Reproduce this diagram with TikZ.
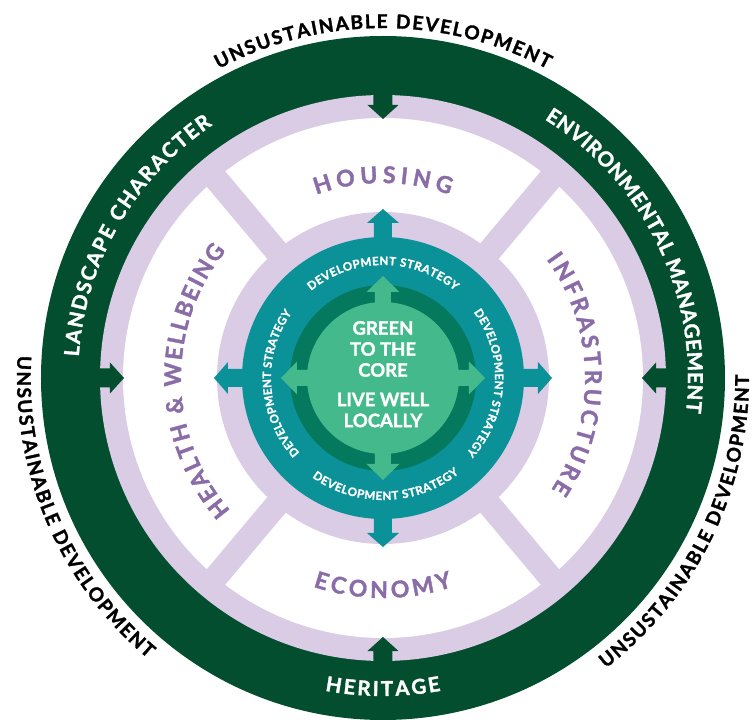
\documentclass[tikz,border=0pt]{standalone}
\usepackage{fontspec}
\setmainfont{Lato}[BoldFeatures={FakeBold=1.6}]
\usepackage{xcolor}
\usepackage{tikz}
\usetikzlibrary{decorations.text}

\definecolor{darkring}{HTML}{044E30}
\definecolor{lav}{HTML}{D9CCE4}
\definecolor{tealc}{HTML}{0B9198}
\definecolor{innerdark}{HTML}{04795E}
\definecolor{lightg}{HTML}{44B98B}
\definecolor{purp}{HTML}{8A6DA8}

\newcommand\outerfont{\bfseries\fontsize{19}{19}\selectfont}
\newcommand\ringfont{\bfseries\fontsize{20.5}{20.5}\selectfont}
\newcommand\sectorfont{\bfseries\fontsize{23}{23}\selectfont}
\newcommand\stratfont{\bfseries\fontsize{11.5}{11.5}\selectfont}

\tikzset{
  arctext/.style n args={3}{
    decorate,
    decoration={text along path, text={|#3|#1}, text color=#2,
      text align=fit to path}
  },
  coretext/.style={text=white, align=center,
    font=\bfseries\fontsize{18.5}{21}\selectfont}
}

\begin{document}
\begin{tikzpicture}[x=1pt,y=1pt]
  \useasboundingbox (-383,-342) rectangle (370,378);
  % rings
  \fill[darkring] (0,0) circle[radius=342pt];
  \fill[lav] (0,0) circle[radius=283pt];
  \fill[white] (0,0) circle[radius=260pt];
  \foreach \a in {50,130,230,310}
    \fill[lav, rotate=\a] (150,-12) rectangle (270,12);
  \fill[lav] (0,0) circle[radius=166pt];
  % development strategy arrows
  \foreach \a in {0,90,180,270}
    \fill[tealc, rotate=\a] (120,-9) -- (155,-9) -- (155,-16) -- (169,0)
      -- (155,16) -- (155,9) -- (120,9) -- cycle;
  \fill[tealc] (0,0) circle[radius=141pt];
  \fill[innerdark] (0,0) circle[radius=93pt];
  \foreach \a in {0,90,180,270}
    \fill[lightg, rotate=\a] (60,-8) -- (86,-8) -- (86,-16.5) -- (102,0)
      -- (86,16.5) -- (86,8) -- (60,8) -- cycle;
  \fill[lightg] (0,0) circle[radius=76pt];
  % inward arrows
  \foreach \a in {0,90,180,270}
    \fill[darkring, rotate=\a] (292,-9.5) -- (273,-9.5) -- (273,-15.5) -- (259,0)
      -- (273,15.5) -- (273,9.5) -- (292,9.5) -- cycle;

  % outer labels
  \path[arctext={UNSUSTAINABLE DEVELOPMENT}{black}{\outerfont}]
    (118:350pt) arc[start angle=118, end angle=62, radius=350pt];
  \path[arctext={UNSUSTAINABLE DEVELOPMENT}{black}{\outerfont}]
    (176.5:366pt) arc[start angle=176.5, end angle=230, radius=366pt];
  \path[arctext={UNSUSTAINABLE DEVELOPMENT}{black}{\outerfont}]
    (-52.5:366pt) arc[start angle=-52.5, end angle=0.5, radius=366pt];

  % ring labels
  \path[arctext={LANDSCAPE CHARACTER}{white}{\ringfont}]
    (176:305pt) arc[start angle=176, end angle=124, radius=305pt];
  \path[arctext={ENVIRONMENTAL MANAGEMENT}{white}{\ringfont}]
    (58:305pt) arc[start angle=58, end angle=-6.5, radius=305pt];
  \path[arctext={HERITAGE}{white}{\ringfont}]
    (259.5:318pt) arc[start angle=259.5, end angle=280.5, radius=318pt];

  % sector labels
  \path[arctext={HOUSING}{purp}{\sectorfont}]
    (110:195pt) arc[start angle=110, end angle=70, radius=195pt];
  \path[arctext={HEALTH {\&} WELLBEING}{purp}{\sectorfont}]
    (221:202pt) arc[start angle=221, end angle=141, radius=202pt];
  \path[arctext={INFRASTRUCTURE}{purp}{\sectorfont}]
    (36:202pt) arc[start angle=36, end angle=-33.5, radius=202pt];
  \path[arctext={ECONOMY}{purp}{\sectorfont}]
    (251.5:220pt) arc[start angle=251.5, end angle=288.5, radius=220pt];

  % development strategy labels
  \path[arctext={DEVELOPMENT STRATEGY}{white}{\stratfont}]
    (129.5:113pt) arc[start angle=129.5, end angle=50.5, radius=113pt];
  \path[arctext={DEVELOPMENT STRATEGY}{white}{\stratfont}]
    (222:112pt) arc[start angle=222, end angle=144.5, radius=112pt];
  \path[arctext={DEVELOPMENT STRATEGY}{white}{\stratfont}]
    (36:112pt) arc[start angle=36, end angle=-42, radius=112pt];
  \path[arctext={DEVELOPMENT STRATEGY}{white}{\stratfont}]
    (234.5:122pt) arc[start angle=234.5, end angle=308.5, radius=122pt];

  % core
  \node[coretext] (core) at (0,29) {GREEN\\TO THE\\CORE};
  \node[coretext] (local) at (0,-32) {LIVE WELL\\LOCALLY};
\end{tikzpicture}
\end{document}
